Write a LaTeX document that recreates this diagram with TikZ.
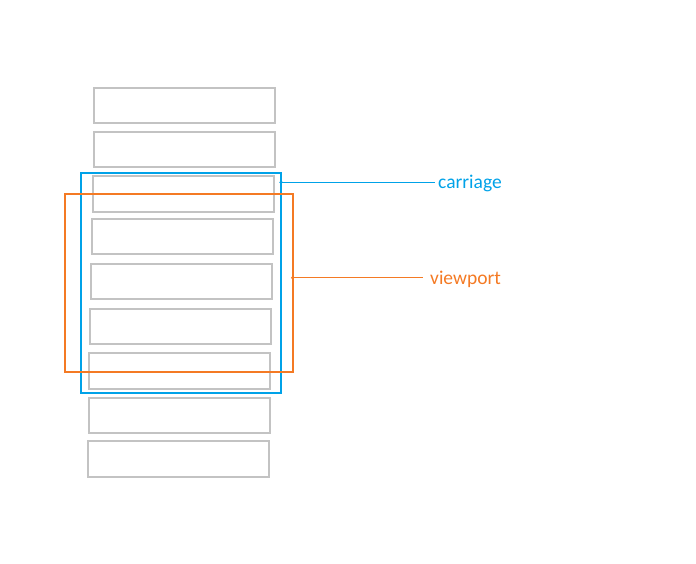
\documentclass[tikz,border=0pt]{standalone}
\usepackage{fontspec}
\setmainfont{Carlito}
\usepackage{tikz}
\usetikzlibrary{positioning,calc}
\definecolor{rowgray}{RGB}{195,195,195}
\definecolor{carriagecol}{RGB}{0,162,232}
\definecolor{viewportcol}{RGB}{244,122,36}
\tikzset{row/.style={draw=rowgray,line width=2pt,minimum width=181pt,minimum height=35.5pt,inner sep=0pt}}
\tikzset{frame/.style={draw,line width=2pt,inner sep=0pt}}
\tikzset{tag/.style={font=\fontsize{19.5}{22}\selectfont,anchor=base west,inner sep=0pt}}

\begin{document}
\begin{tikzpicture}[x=1pt,y=-1pt]
    \useasboundingbox (0,0) rectangle (696,564);
    % rows of the list
    \foreach \cx/\cy [count=\i] in {184.5/105.5,184.5/149.5,183/194,182.7/236.7,181.8/281.7,180.8/326.7,179.8/370.8,179.8/415.7,178.8/458.8}
        \node[row] (row\i) at (\cx,\cy) {};
    % carriage and viewport
    \node[frame,draw=carriagecol,minimum width=200.3pt,minimum height=220pt] (carriage) at (180.85,282.7) {};
    \node[frame,draw=viewportcol,minimum width=228pt,minimum height=177.7pt] (viewport) at (178.7,282.85) {};
    % labels
    \coordinate (cdot) at (281,182.3);
    \coordinate (vdot) at (292.7,277.7);
    \node[tag,text=carriagecol] (carriagelbl) at (438,189) {carriage};
    \node[tag,text=viewportcol] (viewportlbl) at (430,284) {viewport};
    \fill[carriagecol] (cdot) circle (1.8pt);
    \fill[viewportcol] (vdot) circle (1.8pt);
    \draw[carriagecol,line width=1pt,shorten >=3pt] (cdot) -- (cdot -| carriagelbl.west);
    \draw[viewportcol,line width=1pt,shorten >=7pt] (vdot) -- (vdot -| viewportlbl.west);
\end{tikzpicture}
\end{document}
